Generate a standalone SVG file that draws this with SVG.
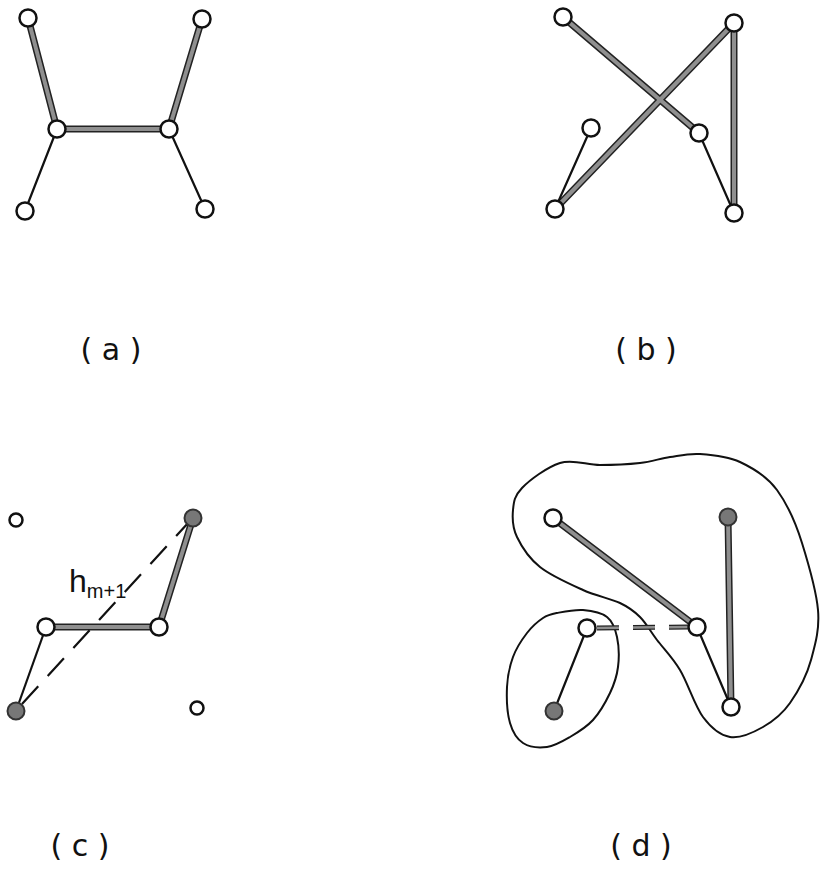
<svg xmlns="http://www.w3.org/2000/svg" width="825" height="879" viewBox="0 0 825 879">
<style>
.thk-o{stroke:#222;stroke-width:7;stroke-linecap:round;fill:none}
.thk-i{stroke:#8f8f8f;stroke-width:4;stroke-linecap:round;fill:none}
.thin{stroke:#111;stroke-width:2.2;fill:none}
.dash{stroke:#111;stroke-width:2.2;stroke-dasharray:24 14;fill:none}
.dash-o{stroke:#222;stroke-width:5;stroke-dasharray:22 14;fill:none}
.dash-i{stroke:#8f8f8f;stroke-width:2.5;stroke-dasharray:22 14;fill:none}
.open{fill:#fff;stroke:#111;stroke-width:2.5}
.full{fill:#777;stroke:#333;stroke-width:2}
.blob{fill:none;stroke:#111;stroke-width:2}
.lbl{font-family:"DejaVu Sans","Liberation Sans",sans-serif;font-size:30px;fill:#111}
.h{font-family:"Liberation Sans","DejaVu Sans",sans-serif;fill:#111}
</style>
<path class="blob" d="M 560,463 C 573,458.8 586.7,465 600,465 C 613.3,465 628.3,464.3 640,463 C 651.7,461.7 660,458.5 670,457 C 680,455.5 688.3,453.2 700,454 C 711.7,454.8 727.2,456 740,462 C 752.8,468 767,476.2 777,490 C 787,503.8 795.7,522.7 802,543 C 808.3,563.3 816.3,590.5 818,610 C 819.7,629.5 815.2,644.5 811,660 C 806.8,675.5 797.8,691.8 790,703 C 782.2,714.2 773,721.3 763,727 C 753,732.7 740,738.7 730,737 C 720,735.3 711.3,728.2 703,717 C 694.7,705.8 687.7,682.8 680,670 C 672.3,657.2 663.7,648.8 657,640 C 650.3,631.2 646.2,623.2 640,617 C 633.8,610.8 629.5,607.5 620,603 C 610.5,598.5 596.3,596 583,590 C 569.7,584 551,575.8 540,567 C 529,558.2 521.5,546.5 517,537 C 512.5,527.5 512.2,518.2 513,510 C 513.8,501.8 514.2,496.2 522,488 C 529.8,479.8 547,467.2 560,463 Z"/>
<path class="blob" d="M 557,613 C 563.7,611.7 574.7,609.3 583,610 C 591.3,610.7 601.3,612.5 607,617 C 612.7,621.5 615.2,628.7 617,637 C 618.8,645.3 619.2,657.7 618,667 C 616.8,676.7 614.2,684.2 610,693 C 605.8,701.8 599.7,712.7 593,720 C 586.3,727.3 577.7,732.5 570,737 C 562.3,741.5 554.8,746 547,747 C 539.2,748 529.2,747 523,743 C 516.8,739 512.7,732.3 510,723 C 507.3,713.7 506.5,698 507,687 C 507.5,676 509.7,666 513,657 C 516.3,648 522,639.5 527,633 C 532,626.5 538,621.3 543,618 C 548,614.7 550.3,614.3 557,613 Z"/>
<g id="connectors">
<path class="thk-o" d="M28,18 L57,129 M57,129 L169,129 M169,129 L202,19"/>
<path class="thk-i" d="M28,18 L57,129 M57,129 L169,129 M169,129 L202,19"/>
<path class="thin" d="M57,129 L25,211 M169,129 L205,209"/>
<path class="thk-o" d="M563,17 L699,133 M555,209 L734,23 L734,213"/>
<path class="thk-i" d="M563,17 L699,133 M555,209 L734,23 L734,213"/>
<path class="thin" d="M591,128 L555,209 M699,133 L734,213"/>
<path class="thk-o" d="M46,627 L159,627 L193,518"/>
<path class="thk-i" d="M46,627 L159,627 L193,518"/>
<path class="thin" d="M46,627 L16,711"/>
<path class="dash" d="M22,704 L189,522"/>
<path class="thk-o" d="M553,518 L697,627 M728,517 L731,707"/>
<path class="thk-i" d="M553,518 L697,627 M728,517 L731,707"/>
<path class="thin" d="M697,627 L731,707 M587,628 L554,711"/>
<path class="dash-o" d="M597,628 L688,627"/>
<path class="dash-i" d="M597,628 L688,627"/>
</g>
<g id="a1"><circle class="open" cx="28" cy="18" r="8.5"/></g>
<g id="a2"><circle class="open" cx="202" cy="19" r="8.5"/></g>
<g id="a3"><circle class="open" cx="57" cy="129" r="8.5"/></g>
<g id="a4"><circle class="open" cx="169" cy="129" r="8.5"/></g>
<g id="a5"><circle class="open" cx="25" cy="211" r="8.5"/></g>
<g id="a6"><circle class="open" cx="205" cy="209" r="8.5"/></g>
<g id="b1"><circle class="open" cx="563" cy="17" r="8.5"/></g>
<g id="b2"><circle class="open" cx="734" cy="23" r="8.5"/></g>
<g id="b3"><circle class="open" cx="591" cy="128" r="8.5"/></g>
<g id="b4"><circle class="open" cx="699" cy="133" r="8.5"/></g>
<g id="b5"><circle class="open" cx="555" cy="209" r="8.5"/></g>
<g id="b6"><circle class="open" cx="734" cy="213" r="8.5"/></g>
<g id="c1"><circle class="open" cx="16" cy="520" r="6.5"/></g>
<g id="c2"><circle class="full" cx="193" cy="518" r="8.5"/></g>
<g id="c3"><circle class="open" cx="46" cy="627" r="8.5"/></g>
<g id="c4"><circle class="open" cx="159" cy="627" r="8.5"/></g>
<g id="c5"><circle class="full" cx="16" cy="711" r="8.5"/></g>
<g id="c6"><circle class="open" cx="197" cy="708" r="6.5"/></g>
<g id="d1"><circle class="open" cx="553" cy="518" r="8.5"/></g>
<g id="d2"><circle class="full" cx="728" cy="517" r="8.5"/></g>
<g id="d3"><circle class="open" cx="697" cy="627" r="8.5"/></g>
<g id="d4"><circle class="open" cx="587" cy="628" r="8.5"/></g>
<g id="d5"><circle class="full" cx="554" cy="711" r="8.5"/></g>
<g id="d6"><circle class="open" cx="731" cy="707" r="8.5"/></g>
<text class="h" x="69" y="592" font-size="32">h<tspan font-size="20" dy="6">m+1</tspan></text>
<text class="lbl" x="111" y="360" text-anchor="middle" xml:space="preserve">( a )</text>
<text class="lbl" x="646" y="360" text-anchor="middle" xml:space="preserve">( b )</text>
<text class="lbl" x="80" y="856" text-anchor="middle" xml:space="preserve">( c )</text>
<text class="lbl" x="641" y="856" text-anchor="middle" xml:space="preserve">( d )</text>
</svg>
